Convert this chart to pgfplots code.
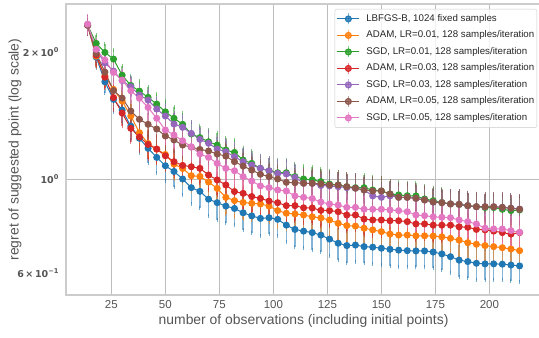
\documentclass[border=0pt]{standalone}
\usepackage{fontspec}
\setmainfont{Liberation Sans}
\newfontfamily\djv{DejaVu Sans}
\usepackage{pgfplots}
\usepackage{pgfplotstable}
\pgfplotsset{compat=1.18}
\definecolor{tblue}{HTML}{1F77B4}
\definecolor{torange}{HTML}{FF7F0E}
\definecolor{tgreen}{HTML}{2CA02C}
\definecolor{tred}{HTML}{D62728}
\definecolor{tpurple}{HTML}{9467BD}
\definecolor{tbrown}{HTML}{8C564B}
\definecolor{tpink}{HTML}{E377C2}
\definecolor{txt}{HTML}{262626}
\definecolor{lbl}{HTML}{555555}
\definecolor{framegray}{HTML}{CCCCCC}
\definecolor{gridgray}{HTML}{BDBDBD}

\pgfplotstableread{
x   b     be    o     oe    g     ge    r     re    p     pe    n     ne    k     ke
14  2.312 0.110 2.312 0.110 2.312 0.110 2.312 0.110 2.312 0.110 2.312 0.110 2.325 0.110
18  1.943 0.110 1.953 0.110 2.093 0.100 1.964 0.110 2.018 0.100 1.982 0.100 2.026 0.110
22  1.698 0.100 1.752 0.100 1.993 0.098 1.742 0.100 1.883 0.098 1.790 0.098 1.911 0.100
26  1.543 0.100 1.629 0.100 1.922 0.095 1.558 0.100 1.800 0.095 1.619 0.095 1.787 0.100
30  1.456 0.100 1.529 0.098 1.760 0.093 1.432 0.098 1.709 0.093 1.554 0.093 1.714 0.098
34  1.334 0.095 1.409 0.095 1.665 0.090 1.318 0.095 1.653 0.090 1.448 0.090 1.617 0.095
38  1.248 0.095 1.287 0.093 1.614 0.090 1.257 0.093 1.580 0.090 1.384 0.090 1.552 0.093
42  1.182 0.090 1.213 0.090 1.560 0.088 1.207 0.090 1.537 0.088 1.347 0.088 1.477 0.090
46  1.125 0.090 1.177 0.088 1.504 0.087 1.177 0.088 1.464 0.087 1.313 0.087 1.392 0.088
50  1.075 0.088 1.143 0.086 1.442 0.086 1.135 0.086 1.409 0.086 1.264 0.086 1.306 0.086
54  1.042 0.085 1.085 0.085 1.392 0.085 1.099 0.085 1.349 0.085 1.237 0.085 1.271 0.085
58  1.000 0.082 1.059 0.083 1.347 0.084 1.077 0.083 1.325 0.084 1.203 0.084 1.232 0.083
62  0.954 0.080 1.018 0.082 1.278 0.083 1.069 0.082 1.282 0.083 1.190 0.083 1.192 0.082
66  0.935 0.080 1.014 0.080 1.253 0.082 1.060 0.080 1.241 0.082 1.175 0.082 1.146 0.080
70  0.896 0.078 0.984 0.079 1.225 0.081 1.022 0.079 1.215 0.081 1.165 0.081 1.125 0.079
74  0.879 0.077 0.950 0.078 1.203 0.080 0.995 0.078 1.177 0.080 1.146 0.080 1.089 0.078
78  0.863 0.076 0.905 0.077 1.171 0.079 0.968 0.077 1.160 0.079 1.133 0.079 1.060 0.077
82  0.852 0.075 0.889 0.076 1.156 0.078 0.934 0.076 1.129 0.078 1.099 0.078 1.046 0.076
86  0.832 0.074 0.880 0.075 1.109 0.077 0.925 0.075 1.099 0.077 1.073 0.077 1.013 0.075
90  0.818 0.073 0.876 0.074 1.089 0.076 0.909 0.074 1.079 0.076 1.050 0.076 0.989 0.074
94  0.807 0.072 0.873 0.073 1.060 0.075 0.900 0.073 1.060 0.075 1.026 0.075 0.963 0.073
98  0.810 0.070 0.863 0.072 1.046 0.075 0.887 0.072 1.046 0.075 1.013 0.075 0.954 0.072
102 0.803 0.070 0.842 0.071 1.035 0.074 0.879 0.071 1.031 0.074 1.000 0.074 0.942 0.071
106 0.778 0.069 0.830 0.070 1.035 0.073 0.865 0.070 1.028 0.073 0.982 0.073 0.937 0.070
110 0.760 0.068 0.827 0.070 1.013 0.073 0.865 0.070 1.008 0.073 0.980 0.073 0.912 0.070
114 0.753 0.067 0.822 0.069 1.000 0.072 0.855 0.069 0.977 0.072 0.977 0.072 0.905 0.069
118 0.747 0.066 0.814 0.069 0.995 0.071 0.854 0.069 0.976 0.071 0.977 0.071 0.899 0.069
122 0.737 0.065 0.809 0.068 0.986 0.071 0.843 0.068 0.965 0.071 0.974 0.071 0.882 0.068
126 0.721 0.064 0.800 0.068 0.973 0.070 0.842 0.068 0.963 0.070 0.968 0.070 0.873 0.068
130 0.705 0.063 0.786 0.067 0.968 0.070 0.837 0.067 0.959 0.070 0.968 0.070 0.868 0.067
134 0.696 0.062 0.776 0.067 0.959 0.069 0.822 0.067 0.954 0.069 0.959 0.069 0.857 0.067
138 0.698 0.061 0.774 0.066 0.954 0.069 0.822 0.066 0.951 0.069 0.951 0.069 0.857 0.066
142 0.692 0.060 0.765 0.066 0.954 0.068 0.804 0.066 0.942 0.068 0.942 0.068 0.848 0.066
146 0.690 0.060 0.758 0.065 0.942 0.068 0.800 0.065 0.912 0.068 0.937 0.068 0.848 0.065
150 0.686 0.059 0.751 0.065 0.937 0.067 0.800 0.065 0.905 0.067 0.937 0.067 0.848 0.065
154 0.682 0.059 0.741 0.065 0.922 0.067 0.797 0.065 0.912 0.067 0.922 0.067 0.845 0.065
158 0.679 0.058 0.737 0.064 0.917 0.066 0.797 0.064 0.905 0.066 0.905 0.066 0.842 0.064
162 0.677 0.058 0.737 0.064 0.913 0.066 0.793 0.064 0.905 0.066 0.905 0.066 0.837 0.064
166 0.676 0.057 0.734 0.064 0.912 0.066 0.783 0.064 0.900 0.066 0.900 0.066 0.822 0.064
170 0.676 0.057 0.734 0.063 0.897 0.065 0.783 0.063 0.892 0.065 0.892 0.065 0.819 0.063
174 0.672 0.056 0.733 0.063 0.889 0.065 0.778 0.063 0.882 0.065 0.882 0.065 0.814 0.063
178 0.665 0.056 0.730 0.063 0.880 0.065 0.778 0.063 0.879 0.065 0.879 0.065 0.812 0.063
182 0.655 0.055 0.724 0.062 0.873 0.064 0.778 0.062 0.873 0.064 0.873 0.064 0.810 0.062
186 0.643 0.055 0.717 0.062 0.871 0.064 0.771 0.062 0.871 0.064 0.871 0.064 0.800 0.062
190 0.638 0.055 0.707 0.062 0.865 0.064 0.769 0.062 0.865 0.064 0.865 0.064 0.793 0.062
194 0.632 0.054 0.701 0.062 0.860 0.063 0.760 0.062 0.860 0.063 0.860 0.063 0.783 0.062
198 0.630 0.054 0.696 0.061 0.856 0.063 0.758 0.061 0.860 0.063 0.860 0.063 0.765 0.061
202 0.630 0.054 0.692 0.061 0.856 0.063 0.753 0.061 0.860 0.063 0.860 0.063 0.762 0.061
206 0.629 0.053 0.688 0.061 0.848 0.063 0.747 0.061 0.857 0.063 0.857 0.063 0.762 0.061
210 0.626 0.053 0.683 0.061 0.842 0.062 0.741 0.061 0.853 0.062 0.853 0.062 0.755 0.061
214 0.623 0.053 0.677 0.060 0.845 0.062 0.747 0.060 0.849 0.062 0.848 0.062 0.748 0.060
}\data

\pgfplotsset{
  ser/.style={color=#1, solid, mark=*, mark size=3pt, line width=1pt, mark options={solid, fill=#1, draw=#1},
    error bars/.cd, y dir=both, y explicit, error mark=-,
    error bar style={solid, line width=1.5pt, opacity=0.55},
    error mark options={solid, mark size=2pt, line width=1pt, opacity=0.6}},
}

\begin{document}
\begin{tikzpicture}
\begin{axis}[
  name=ax,
  scale only axis, width=475.2pt, height=291pt,
  xmin=4, xmax=224, ymode=log, ymin=0.5317, ymax=2.594,
  /pgf/number format/assume math mode=true,
  axis line style={draw=framegray, line width=1.25pt},
  axis background/.style={fill=white},
  xtick={25,50,...,200},
  ytick={1}, yticklabels={{10\textsuperscript{0}}},
  extra y ticks={0.6,2},
  extra y tick labels={{6\,×\,10\textsuperscript{−1}},{2\,×\,10\textsuperscript{0}}},
  extra y tick style={grid=none},
  minor y tick num=0,
  xmajorgrids, ymajorgrids,
  grid style={draw=gridgray, line width=1pt},
  major tick style={draw=none}, minor tick style={draw=none},
  tick style={draw=none},
  xticklabel style={font=\fontsize{11.5}{13}\selectfont, text=lbl, anchor=center, yshift=-10pt},
  yticklabel style={font=\djv\bfseries\fontsize{9.5}{11}\selectfont, text=lbl, anchor=east, xshift=-3.5pt},
  xlabel={number of observations (including initial points)},
  ylabel={regret of suggested point (log scale)},
  label style={font=\fontsize{13.9}{16}\selectfont, text=lbl},
  xlabel style={at={(axis description cs:0.5,-0.0883)}, anchor=center},
  ylabel style={at={(axis description cs:-0.1073,0.5)}, anchor=center},
  legend style={at={(1,1)}, anchor=north east, xshift=-4.2pt, yshift=-5pt,
    draw=framegray, fill=white, fill opacity=0.8, text opacity=1, rounded corners=2pt,
    font=\fontsize{9.7}{11}\selectfont, text=txt, inner xsep=2pt, inner ysep=3.5pt,
    row sep=4pt, nodes={inner sep=0.5pt, text height=7pt, text depth=2pt},
    /tikz/every odd column/.append style={column sep=6pt}},
  legend cell align=left,
  legend image code/.code={
    \draw[#1, mark=none] (0pt,0pt) -- (22pt,0pt);
    \draw[#1, mark=none, opacity=0.55, line width=1.5pt] (11pt,-5.5pt) -- (11pt,5.5pt);
    \draw[#1] plot coordinates {(11pt,0pt)};
  },
]
\addplot[ser=tblue] table[x=x, y=b, y error=be]{\data};
\addlegendentry{LBFGS-B, 1024 fixed samples}
\addplot[ser=torange] table[x=x, y=o, y error=oe]{\data};
\addlegendentry{ADAM, LR=0.01, 128 samples/iteration}
\addplot[ser=tgreen] table[x=x, y=g, y error=ge]{\data};
\addlegendentry{SGD, LR=0.01, 128 samples/iteration}
\addplot[ser=tred] table[x=x, y=r, y error=re]{\data};
\addlegendentry{ADAM, LR=0.03, 128 samples/iteration}
\addplot[ser=tpurple] table[x=x, y=p, y error=pe]{\data};
\addlegendentry{SGD, LR=0.03, 128 samples/iteration}
\addplot[ser=tbrown] table[x=x, y=n, y error=ne]{\data};
\addlegendentry{ADAM, LR=0.05, 128 samples/iteration}
\addplot[ser=tpink] table[x=x, y=k, y error=ke]{\data};
\addlegendentry{SGD, LR=0.05, 128 samples/iteration}
\end{axis}
\pgfresetboundingbox
\path ([shift={(-66pt,-42pt)}]ax.south west) rectangle ([shift={(-2.2pt,4pt)}]ax.north east);
\end{tikzpicture}
\end{document}
